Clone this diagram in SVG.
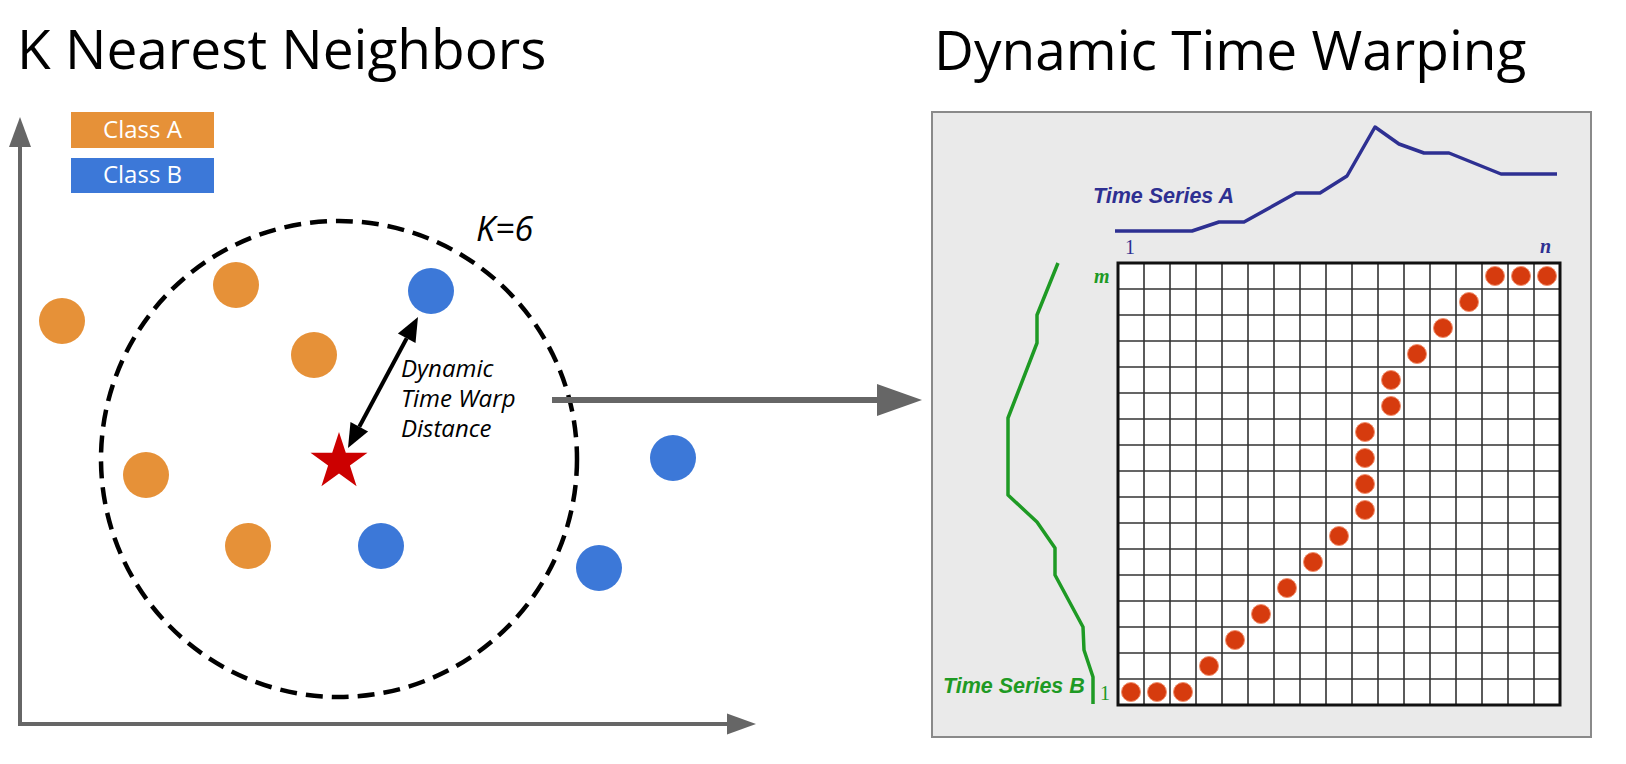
<svg xmlns="http://www.w3.org/2000/svg" width="1626" height="764" viewBox="0 0 1626 764">
<style>
.title{font-family:"Open Sans","Liberation Sans",sans-serif;font-size:55px;fill:#000}
.lbl{font-family:"Open Sans","Liberation Sans",sans-serif;font-size:24px;fill:#fff}
.it{font-family:"Open Sans","Liberation Sans",sans-serif;font-style:italic;fill:#000}
.ts{font-family:"Liberation Sans",Arial,sans-serif;font-weight:bold;font-style:italic;font-size:21.5px}
.sr{font-family:"Liberation Serif","Times New Roman",serif;font-size:20px}
.ca{fill:#E69138}
.cb{fill:#3C78D8}
.dot{fill:#D63B0E;stroke:#F2906E;stroke-width:1}
.axis{fill:none;stroke:#666;stroke-width:4}
</style>
<rect width="1626" height="764" fill="#fff"/>
<g id="title-knn"><text class="title" x="17" y="69">K Nearest Neighbors</text></g>
<g id="title-dtw"><text class="title" x="934" y="70">Dynamic Time Warping</text></g>
<g id="axes">
<polyline class="axis" points="20,146 20,724 728,724"/>
<polygon fill="#666" points="20,117 31,147 9,147"/>
<polygon fill="#666" points="756,724 727,713.5 727,734.5"/>
</g>
<g id="legend-a"><rect class="ca" x="71" y="112" width="143" height="36"/><text class="lbl" x="142.5" y="138" text-anchor="middle">Class A</text></g>
<g id="legend-b"><rect class="cb" x="71" y="158" width="143" height="35"/><text class="lbl" x="142.5" y="183" text-anchor="middle">Class B</text></g>
<g id="circle-k"><circle cx="339" cy="459" r="238" fill="none" stroke="#000" stroke-width="4.5" stroke-dasharray="17 9"/><text class="it" x="476" y="241" font-size="34">K=6</text></g>
<g id="points">
<circle class="ca" cx="62" cy="321" r="23"/>
<circle class="ca" cx="236" cy="285" r="23"/>
<circle class="ca" cx="314" cy="355" r="23"/>
<circle class="ca" cx="146" cy="475" r="23"/>
<circle class="ca" cx="248" cy="546" r="23"/>
<circle class="cb" cx="431" cy="291" r="23"/>
<circle class="cb" cx="673" cy="458" r="23"/>
<circle class="cb" cx="381" cy="546" r="23"/>
<circle class="cb" cx="599" cy="568" r="23"/>
</g>
<g id="query-star"><polygon fill="#CC0000" points="339,432 345.8,452.7 367.5,452.7 349.9,465.6 356.6,486.3 339,473.5 321.4,486.3 328.1,465.6 310.5,452.7 332.2,452.7"/></g>
<g id="connectors">
<line x1="359.3" y1="426.8" x2="406.7" y2="338.2" stroke="#000" stroke-width="4"/>
<polygon fill="#000" points="418,317 415.5,342.9 397.9,333.5"/>
<polygon fill="#000" points="348,448 368.1,431.5 350.5,422.1"/>
<line x1="552" y1="400" x2="879" y2="400" stroke="#666" stroke-width="6"/>
<polygon fill="#666" points="922,400 877,384 877,416"/>
</g>
<g id="distance-label">
<text class="it" font-size="24" x="401" y="377">Dynamic</text>
<text class="it" font-size="24" x="401" y="407">Time Warp</text>
<text class="it" font-size="24" x="401" y="437">Distance</text>
</g>
<g id="dtw-panel">
<rect x="932" y="112" width="659" height="625" fill="#EAEAEA" stroke="#8A8A8A" stroke-width="2"/>
<rect x="1118" y="263" width="442" height="442" fill="#fff"/>
<path fill="none" stroke="#333" stroke-width="1.6" d="M1144,263V705M1170,263V705M1196,263V705M1222,263V705M1248,263V705M1274,263V705M1300,263V705M1326,263V705M1352,263V705M1378,263V705M1404,263V705M1430,263V705M1456,263V705M1482,263V705M1508,263V705M1534,263V705M1118,289H1560M1118,315H1560M1118,341H1560M1118,367H1560M1118,393H1560M1118,419H1560M1118,445H1560M1118,471H1560M1118,497H1560M1118,523H1560M1118,549H1560M1118,575H1560M1118,601H1560M1118,627H1560M1118,653H1560M1118,679H1560"/>
<rect x="1118" y="263" width="442" height="442" fill="none" stroke="#111" stroke-width="3"/>
<g id="warp-path">
<circle class="dot" cx="1131" cy="692" r="9.5"/><circle class="dot" cx="1157" cy="692" r="9.5"/><circle class="dot" cx="1183" cy="692" r="9.5"/>
<circle class="dot" cx="1209" cy="666" r="9.5"/><circle class="dot" cx="1235" cy="640" r="9.5"/><circle class="dot" cx="1261" cy="614" r="9.5"/>
<circle class="dot" cx="1287" cy="588" r="9.5"/><circle class="dot" cx="1313" cy="562" r="9.5"/><circle class="dot" cx="1339" cy="536" r="9.5"/>
<circle class="dot" cx="1365" cy="510" r="9.5"/><circle class="dot" cx="1365" cy="484" r="9.5"/><circle class="dot" cx="1365" cy="458" r="9.5"/>
<circle class="dot" cx="1365" cy="432" r="9.5"/><circle class="dot" cx="1391" cy="406" r="9.5"/><circle class="dot" cx="1391" cy="380" r="9.5"/>
<circle class="dot" cx="1417" cy="354" r="9.5"/><circle class="dot" cx="1443" cy="328" r="9.5"/><circle class="dot" cx="1469" cy="302" r="9.5"/>
<circle class="dot" cx="1495" cy="276" r="9.5"/><circle class="dot" cx="1521" cy="276" r="9.5"/><circle class="dot" cx="1547" cy="276" r="9.5"/>
</g>
<polyline fill="none" stroke="#2E3092" stroke-width="3.5" stroke-linejoin="round" points="1115,231 1192,231 1219,222 1244,222 1296,193 1320,193 1347,176 1375,127 1399,144 1424,153 1449,153 1501,174 1557,174"/>
<polyline fill="none" stroke="#1E9A24" stroke-width="3.5" stroke-linejoin="round" points="1058,263 1037,315 1037,343 1008,418 1008,495 1037,522 1055,548 1055,575 1083,627 1084,650 1093,677 1093,704"/>
<text class="ts" fill="#2E3092" x="1093" y="203">Time Series A</text>
<text class="ts" fill="#1E9A24" x="943" y="693">Time Series B</text>
<text class="sr" fill="#2E3092" x="1125" y="254">1</text>
<text class="sr" fill="#2E3092" x="1540" y="253" font-style="italic" font-weight="bold">n</text>
<text class="sr" fill="#1E9A24" x="1094" y="283" font-size="22" font-style="italic" font-weight="bold">m</text>
<text class="sr" fill="#1E9A24" x="1100" y="700">1</text>
</g>
</svg>
